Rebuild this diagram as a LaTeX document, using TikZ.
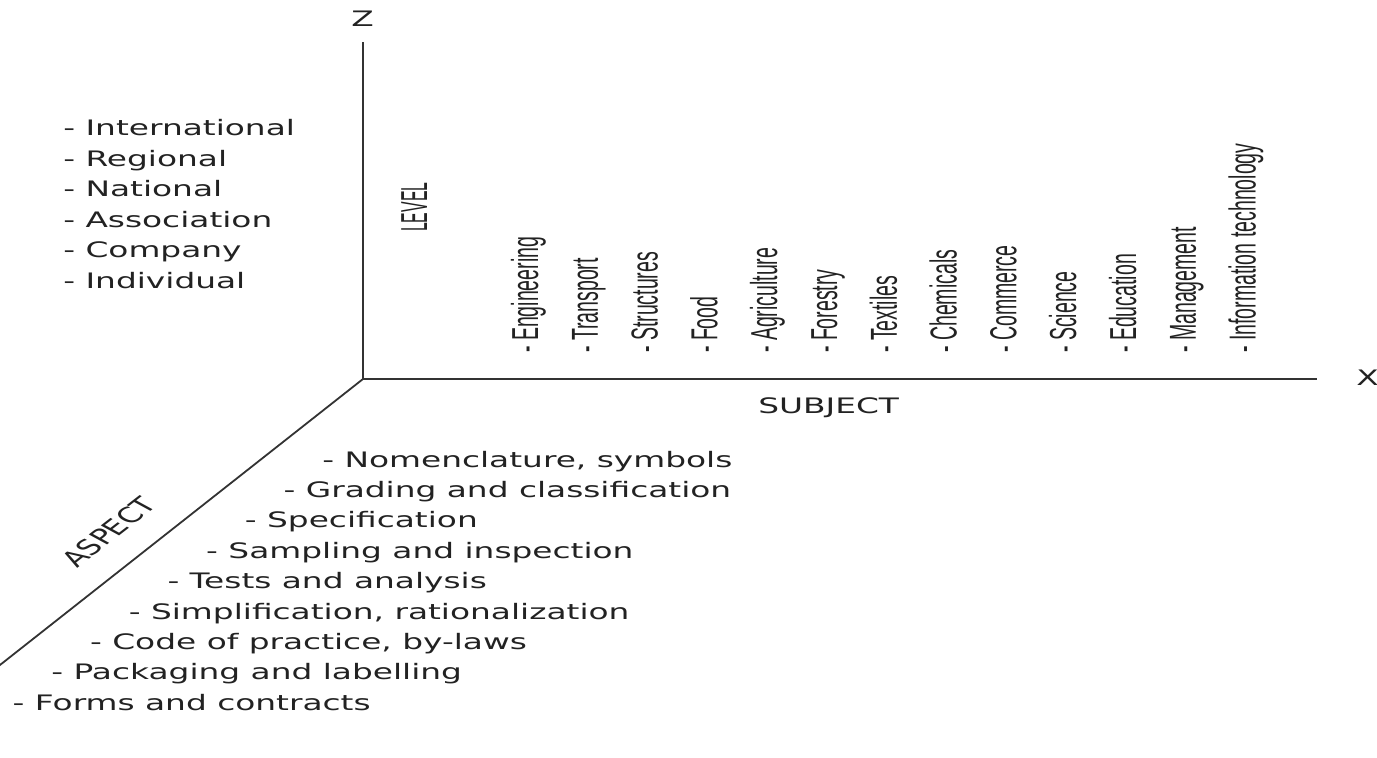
\documentclass[tikz,border=0pt]{standalone}
\usepackage{fontspec}
\setmainfont{DejaVu Sans}
\newfontfamily\subjfont{Liberation Sans}
\definecolor{ink}{HTML}{222222}
\definecolor{axiscol}{HTML}{333333}
\begin{document}
\begin{tikzpicture}[x=1pt,y=-1pt,
  htext/.style={xscale=1.54, inner sep=0pt, anchor=base west, font=\fontsize{21.3}{25}\selectfont, text=ink},
  vtext/.style={rotate=90, xscale=0.8, yscale=1.54, inner sep=0pt, anchor=base west, font=\subjfont\fontsize{24.4}{28}\selectfont, text=ink},
  axisline/.style={draw=axiscol, line width=1.8pt}]
\useasboundingbox (0,0) rectangle (1377,758);
% axes
\coordinate (O) at (363,379);
\coordinate (Ztop) at (363,42);
\coordinate (Xend) at (1316.7,379);
\coordinate (Aend) at (-6,669.7);
\draw[axisline] (Ztop) -- (O) -- (Xend);
\draw[axisline] (O) -- (Aend);
% axis letters
\node[htext, anchor=base] (zlab) at (362.5,26) {Z};
\node[htext] (xlab) at (1356,385) {X};
\node[htext] (subject) at (758,413) {SUBJECT};
\node[vtext, xscale=0.81] (level) at (427,232) {LEVEL};
\node[xscale=1.54, rotate=50, inner sep=0pt, font=\fontsize{21.3}{25}\selectfont, text=ink] (aspect) at (109,532) {ASPECT};
% level list
\foreach \t [count=\i from 0] in {International,Regional,National,Association,Company,Individual}
  \node[htext] (lvl\i) at (63,135.7+30.5*\i) {- \t};
% aspect list
\foreach \t [count=\i from 0] in {{Nomenclature, symbols},Grading and classification,Specification,Sampling and inspection,Tests and analysis,{Simplification, rationalization},{Code of practice, by-laws},Packaging and labelling,Forms and contracts}
  \node[htext] (asp\i) at (322-38.7*\i,467+30.4*\i) {- \t};
% subject list
\foreach \t [count=\i from 0] in {Engineering,Transport,Structures,Food,Agriculture,Forestry,Textiles,Chemicals,Commerce,Science,Education,Management,Information technology}
  \node[vtext] (sub\i) at (538+59.8*\i,353) {- \t};
\end{tikzpicture}
\end{document}
